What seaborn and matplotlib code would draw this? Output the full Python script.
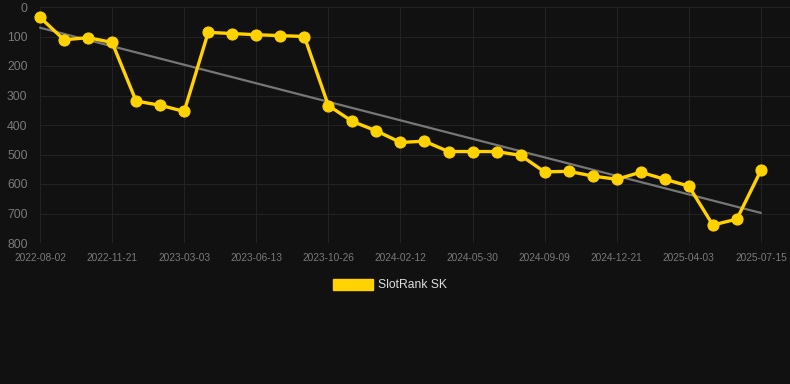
import matplotlib
matplotlib.use("Agg")
import matplotlib.pyplot as plt
import matplotlib.patches as mpatches
import seaborn as sns
import numpy as np
import pandas as pd

# rank values (lower is better, axis inverted)
ranks = [35, 111, 104, 120, 319, 333, 354, 86, 90, 94, 97, 100, 334, 388, 420,
         459, 455, 490, 490, 490, 503, 559, 557, 573, 584, 560, 584, 607, 739, 719, 554]
tick_labels = ['2022-08-02', '2022-11-21', '2023-03-03', '2023-06-13', '2023-10-26',
               '2024-02-12', '2024-05-30', '2024-09-09', '2024-12-21', '2025-04-03',
               '2025-07-15']
y_ticks = [0, 100, 200, 300, 400, 500, 600, 700, 800]

bg = '#111111'
gold = '#FFD200'
grid_col = '#222222'

df = pd.DataFrame({'idx': np.arange(len(ranks)), 'rank': ranks})

sns.set_style('dark')
plt.rcParams['font.family'] = ['Arial', 'Liberation Sans', 'DejaVu Sans']

fig = plt.figure(figsize=(7.9, 3.84), dpi=100, facecolor=bg)
ax = fig.add_axes([40 / 790, 1 - 243 / 384, 750 / 790, 236 / 384])
ax.set_facecolor(bg)

# trend line
sns.regplot(data=df, x='idx', y='rank', scatter=False, ci=None, ax=ax,
            line_kws={'color': '#777777', 'linewidth': 1.6, 'zorder': 2})

sns.lineplot(data=df, x='idx', y='rank', ax=ax, color=gold, linewidth=2.4,
             marker='o', markersize=8, markeredgecolor=gold, zorder=3)
for ln in ax.lines:
    ln.set_clip_on(False)

ax.set_xlim(0, (790 - 40) / 24.03)
ax.set_ylim(800, 0)
ax.set_yticks(y_ticks)
ax.set_yticklabels([str(v) for v in y_ticks])
ax.set_xticks(np.arange(0, len(ranks), 3))
ax.set_xticklabels(tick_labels)

ax.grid(True, color=grid_col, linewidth=0.8)
ax.tick_params(axis='x', colors=grid_col, labelcolor='#7a7a7a', labelsize=7.3,
               length=5, width=0.8, pad=2)
ax.tick_params(axis='y', colors=grid_col, labelcolor='#7a7a7a', labelsize=8.8,
               length=0, pad=9)
for s in ax.spines.values():
    s.set_visible(False)
ax.axhline(800, color='#2a2a2a', linewidth=0.8, zorder=1)
ax.set_xlabel('')
ax.set_ylabel('')

handle = mpatches.Patch(color=gold, label='SlotRank SK')
leg = fig.legend(handles=[handle], loc='center', bbox_to_anchor=(0.494, 1 - 285 / 384),
                 frameon=False, fontsize=8.7, handlelength=3.3, handleheight=1.1,
                 handletextpad=0.45)
for t in leg.get_texts():
    t.set_color('#dddddd')

fig.savefig('out.png', dpi=100, facecolor=bg)
